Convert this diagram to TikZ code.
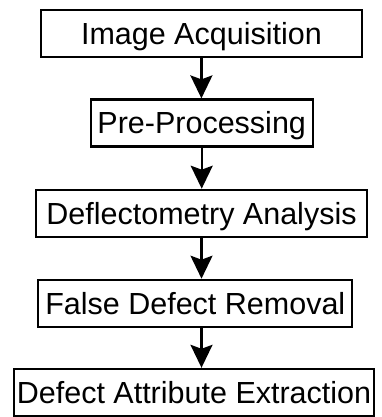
\documentclass[tikz,border=0pt]{standalone}
\usepackage{fontspec}
\setmainfont{Liberation Sans}
\usetikzlibrary{arrows.meta}
\begin{document}
\begin{tikzpicture}[x=1pt,y=1pt,
  stepbox/.style={draw=black, line width=2.2pt, minimum height=47pt, inner sep=0pt,
    font=\fontsize{30.5}{36}\selectfont, text height=21.8pt, text depth=0pt},
  flow/.style={-{Stealth[length=23pt,width=22pt,inset=4pt]}, line width=2.2pt}]
\useasboundingbox (0,0) rectangle (381,417);
\node[stepbox, minimum width=320.7pt] (a) at (201.4,383.6) {Image Acquisition};
\node[stepbox, minimum width=222pt] (b) at (201.7,294) {Pre-Processing};
\node[stepbox, minimum width=331pt] (c) at (201.5,203.7) {Deflectometry Analysis};
\node[stepbox, minimum width=314pt] (d) at (195.3,113.7) {False Defect Removal};
\node[stepbox, minimum width=360pt] (e) at (194,24.6) {Defect Attribute Extraction};
\draw[flow] (a.south) -- (a.south |- b.north);
\draw[flow] (b.south) -- (b.south |- c.north);
\draw[flow] (c.south) -- (c.south |- d.north);
\draw[flow] (c.south |- d.south) -- (c.south |- e.north);
\end{tikzpicture}
\end{document}
